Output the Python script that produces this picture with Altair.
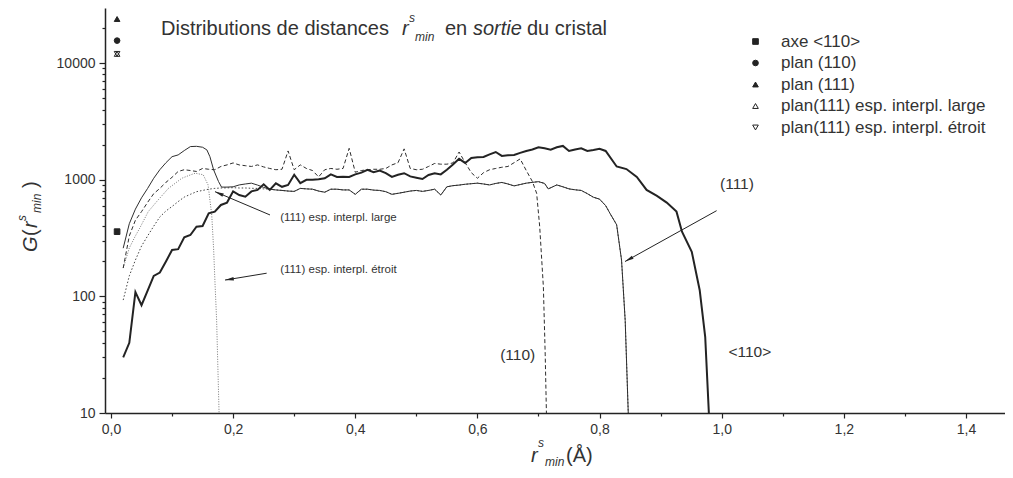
import altair as alt
import pandas as pd

FONT = "Liberation Sans, Arial, Helvetica, sans-serif"
INK = "#232323"
TXT = "#333333"

series_names = ["axe <110>", "plan (110)", "plan (111)",
                "plan(111) esp. interpl. large", "plan(111) esp. interpl. étroit"]

# ---- axe <110> (thick solid) ----
axe_x = [0.02, 0.03, 0.04, 0.05, 0.06, 0.07, 0.08, 0.09, 0.10, 0.11, 0.12, 0.13, 0.14, 0.15,
         0.16, 0.17, 0.18, 0.19, 0.20, 0.21, 0.22, 0.23, 0.24, 0.25, 0.26, 0.27, 0.28, 0.29,
         0.30, 0.31, 0.32, 0.33, 0.34, 0.35, 0.36, 0.37, 0.38, 0.39, 0.40, 0.41, 0.42, 0.43,
         0.44, 0.45, 0.46, 0.47, 0.48, 0.49, 0.50, 0.51, 0.52, 0.53, 0.54, 0.55, 0.56, 0.57,
         0.58, 0.59, 0.60, 0.61, 0.62, 0.63, 0.64, 0.65, 0.66, 0.67, 0.68, 0.69, 0.70, 0.71,
         0.72, 0.73, 0.74, 0.75, 0.76, 0.77, 0.78, 0.79, 0.80, 0.81, 0.828, 0.844, 0.861,
         0.877, 0.894, 0.910, 0.926, 0.935, 0.951, 0.964, 0.973, 0.979]
axe_y = [30, 40, 109, 84, 112, 150, 160, 199, 250, 254, 321, 336, 396, 401,
         516, 533, 608, 637, 795, 740, 716, 795, 818, 915, 818, 932, 870, 903,
         1104, 935, 1000, 1000, 1010, 1030, 1112, 1058, 1060, 1058, 1112, 1150, 1219, 1160,
         1200, 1138, 1058, 1104, 1138, 1068, 1040, 1014, 1100, 1138, 1112, 1219, 1350, 1510,
         1394, 1536, 1560, 1570, 1650, 1730, 1600, 1620, 1633, 1700, 1766, 1820, 1896, 1860,
         1812, 1900, 1950, 1766, 1820, 1860, 1766, 1800, 1840, 1766, 1300, 1235, 1058,
         818, 727, 637, 533, 359, 241, 113, 45, 10]

# ---- plan (110) (dashed) ----
p110_x = [0.02, 0.03, 0.04, 0.05, 0.06, 0.07, 0.08, 0.09, 0.10, 0.11, 0.12, 0.13, 0.14, 0.15,
          0.16, 0.17, 0.18, 0.19, 0.20, 0.21, 0.22, 0.23, 0.24, 0.25, 0.26, 0.27, 0.28, 0.29,
          0.30, 0.31, 0.32, 0.33, 0.34, 0.35, 0.36, 0.37, 0.38, 0.39, 0.40, 0.41, 0.42, 0.43,
          0.44, 0.45, 0.46, 0.47, 0.48, 0.49, 0.50, 0.51, 0.52, 0.53, 0.54, 0.55, 0.56, 0.57,
          0.58, 0.59, 0.60, 0.61, 0.62, 0.63, 0.64, 0.65, 0.66, 0.67, 0.68, 0.69, 0.697,
          0.702, 0.708, 0.711, 0.713]
p110_y = [175, 330, 450, 533, 640, 760, 843, 950, 1050, 1178, 1219, 1200, 1178, 1250,
          1230, 1219, 1300, 1341, 1394, 1340, 1320, 1300, 1341, 1288, 1250, 1219, 1230, 1766,
          1219, 1341, 1250, 1200, 1058, 1219, 1250, 1230, 1250, 1860, 1160, 1200, 1219, 1230,
          1230, 1250, 1341, 1400, 1840, 1250, 1219, 1230, 1300, 1380, 1360, 1360, 1394, 1730,
          1400, 1150, 1030, 1150, 1219, 1250, 1280, 1300, 1400, 1510, 1200, 967, 765,
          396, 121, 32, 10]

# ---- plan (111) (thin solid): its own head, then the part shared with the "large" curve ----
p111_head_x = [0.02, 0.03, 0.04, 0.05, 0.06, 0.07, 0.08, 0.09, 0.10, 0.11, 0.12, 0.13, 0.14,
               0.15, 0.157, 0.162, 0.168, 0.176, 0.181, 0.19, 0.20, 0.21, 0.22, 0.23, 0.24,
               0.25, 0.26]
p111_head_y = [259, 420, 560, 700, 843, 1030, 1219, 1400, 1577, 1633, 1780, 1925, 1935,
               1900, 1803, 1577, 1219, 967, 865, 865, 870, 903, 920, 935, 900,
               860, 830]
tail_x = [0.27, 0.28, 0.29, 0.30, 0.31, 0.32, 0.33, 0.34, 0.35, 0.36, 0.37, 0.38, 0.39, 0.40,
          0.41, 0.42, 0.43, 0.44, 0.45, 0.46, 0.47, 0.48, 0.49, 0.50, 0.51, 0.52, 0.53, 0.54,
          0.55, 0.56, 0.57, 0.58, 0.59, 0.60, 0.61, 0.62, 0.63, 0.64, 0.65, 0.66, 0.67, 0.68,
          0.69, 0.70, 0.71, 0.716, 0.73, 0.74, 0.75, 0.76, 0.77, 0.78, 0.79, 0.80, 0.81,
          0.817, 0.828, 0.836, 0.842, 0.847]
tail_y = [818, 810, 800, 795, 843, 835, 830, 800, 782, 830, 830, 818, 818, 750,
          830, 830, 815, 810, 790, 750, 765, 782, 800, 810, 795, 810, 830, 740,
          870, 890, 900, 915, 925, 935, 920, 903, 930, 948, 920, 886, 910, 935,
          950, 963, 930, 835, 903, 870, 835, 820, 810, 760, 708, 682, 600,
          516, 411, 205, 62, 10]

# ---- plan(111) esp. interpl. large (dotted) ----
large_head_x = [0.02, 0.03, 0.04, 0.05, 0.06, 0.07, 0.08, 0.09, 0.10, 0.11, 0.12, 0.13, 0.14,
                0.15, 0.16, 0.17, 0.18, 0.19, 0.20, 0.21, 0.22, 0.23, 0.24, 0.25, 0.26]
large_head_y = [93, 150, 205, 270, 330, 400, 480, 540, 590, 650, 710, 750, 790,
                810, 830, 843, 850, 852, 855, 850, 850, 845, 843, 835, 830]

# ---- plan(111) esp. interpl. étroit (fine dots) ----
etroit_x = [0.02, 0.03, 0.04, 0.047, 0.061, 0.075, 0.094, 0.116, 0.13, 0.138, 0.151, 0.159,
            0.165, 0.168, 0.170, 0.173, 0.177]
etroit_y = [175, 260, 330, 384, 533, 651, 843, 1030, 1100, 1138, 1104, 903,
            497, 259, 143, 62, 10]

# ---- isolated symbols at r = 0.01 ----
sym_x = [0.01, 0.01, 0.01, 0.01, 0.01]
sym_y = [359, 15600, 23900, 12000, 12000]

x_ticks = [0.0, 0.1, 0.2, 0.3, 0.4, 0.5, 0.6, 0.7, 0.8, 0.9, 1.0, 1.1, 1.2, 1.3, 1.4]
y_ticks = [10, 20, 30, 40, 50, 60, 70, 80, 90,
           100, 200, 300, 400, 500, 600, 700, 800, 900,
           1000, 2000, 3000, 4000, 5000, 6000, 7000, 8000, 9000,
           10000, 20000]

# in-plot annotations (data coordinates)
ann_text = ["(111) esp. interpl. large", "(111) esp. interpl. étroit", "(111)", "(110)", "<110>"]
ann_x = [0.277, 0.277, 1.025, 0.666, 1.046]
ann_y = [470, 170, 920, 31.4, 33.4]
ann_size = [11.5, 11.5, 15.5, 15.5, 15.5]
ann_align = ["left", "left", "center", "center", "center"]

arrow_x0 = [0.2604, 0.2549, 0.9917]
arrow_y0 = [499, 158, 543]
arrow_x1 = [0.1703, 0.1867, 0.8417]
arrow_y1 = [791, 138, 199]
arrow_angle = [293, 261, 241]

# ---------------------------------------------------------------
xscale = alt.Scale(domain=[-0.0098, 1.4639], nice=False, zero=False)
yscale = alt.Scale(type="log", domain=[10, 29700], nice=False)

xaxis = alt.Axis(
    values=x_ticks, title=None, grid=False,
    labelExpr="round(datum.value*10) % 2 === 0 ? replace(format(datum.value, '.1f'), '.', ',') : ''",
    tickSize={"condition": {"test": "round(datum.value*10) % 2 === 0", "value": 5}, "value": 3},
    labelPadding=4, labelFont=FONT, labelFontSize=14, labelColor=TXT,
    domainColor=INK, tickColor=INK, domainWidth=1.5, tickWidth=1.2, labelFlush=False,
    labelOverlap=False,
)
major_y = "datum.value === 10 || datum.value === 100 || datum.value === 1000 || datum.value === 10000"
yaxis = alt.Axis(
    values=y_ticks, title=None, grid=False,
    labelExpr="(" + major_y + ") ? format(datum.value, 'd') : ''",
    tickSize={"condition": {"test": major_y, "value": 6}, "value": 3},
    labelPadding=4, labelFont=FONT, labelFontSize=14, labelColor=TXT,
    domainColor=INK, tickColor=INK, domainWidth=1.5, tickWidth=1.2, labelFlush=False,
    labelOverlap=False,
)


def line_layer(xs, ys, **style):
    df = pd.DataFrame({"x": xs, "y": ys})
    return alt.Chart(df).mark_line(clip=True, **style).encode(
        x=alt.X("x:Q", scale=xscale, axis=xaxis),
        y=alt.Y("y:Q", scale=yscale, axis=yaxis),
    )


layers = [
    line_layer(large_head_x + tail_x, large_head_y + tail_y, color="#444", strokeWidth=1,
               strokeDash=[1.5, 2]),
    line_layer(etroit_x, etroit_y, color="#777", strokeWidth=1, strokeDash=[1, 1.5]),
    line_layer(p111_head_x + tail_x, p111_head_y + tail_y, color="#2e2e2e", strokeWidth=1),
    line_layer(p110_x, p110_y, color="#2e2e2e", strokeWidth=1, strokeDash=[4, 2.5]),
    line_layer(axe_x, axe_y, color=INK, strokeWidth=2),
]

leg = alt.Legend(
    title=None, orient="none", legendX=642, legendY=25, padding=0,
    labelFont=FONT, labelFontSize=17, labelColor=TXT, labelOffset=17, labelLimit=400,
    symbolSize=32, symbolStrokeWidth=1, rowPadding=3.5,
)
sym_df = pd.DataFrame({"x": sym_x, "y": sym_y, "series": series_names})
points = alt.Chart(sym_df).mark_point(filled=True, strokeWidth=1, size=32,
                                      opacity=1).encode(
    x=alt.X("x:Q", scale=xscale, axis=xaxis),
    y=alt.Y("y:Q", scale=yscale, axis=yaxis),
    shape=alt.Shape("series:N", scale=alt.Scale(
        domain=series_names,
        range=["square", "circle", "triangle-up", "triangle-up", "triangle-down"]), legend=leg),
    fill=alt.Fill("series:N", scale=alt.Scale(
        domain=series_names,
        range=[INK, INK, INK, "transparent", "transparent"]), legend=leg),
    stroke=alt.Stroke("series:N", scale=alt.Scale(
        domain=series_names, range=[INK, INK, INK, INK, INK]), legend=leg),
)
layers.append(points)

ann_df = pd.DataFrame({"t": ann_text, "x": ann_x, "y": ann_y, "s": ann_size})
for al in ["left", "center"]:
    sub = ann_df[[a == al for a in ann_align]]
    layers.append(alt.Chart(sub).mark_text(align=al, baseline="middle", font=FONT,
                                           color=TXT).encode(
        x=alt.X("x:Q", scale=xscale), y=alt.Y("y:Q", scale=yscale),
        text="t:N", size=alt.Size("s:Q", scale=None)))

arr_df = pd.DataFrame({"x0": arrow_x0, "y0": arrow_y0, "x1": arrow_x1, "y1": arrow_y1,
                       "a": arrow_angle})
layers.append(alt.Chart(arr_df).mark_rule(color=INK, strokeWidth=1).encode(
    x=alt.X("x0:Q", scale=xscale), y=alt.Y("y0:Q", scale=yscale),
    x2="x1:Q", y2="y1:Q"))
layers.append(alt.Chart(arr_df).mark_point(
    shape="M0,0L-0.45,2.2L0.45,2.2Z", filled=True, color=INK, size=64, opacity=1).encode(
    x=alt.X("x1:Q", scale=xscale), y=alt.Y("y1:Q", scale=yscale),
    angle=alt.Angle("a:Q", scale=None)))

# ---- composed titles (page pixel positions, converted to plot offsets) ----
PL, PT = 105, 8
txt_t = ["Distributions de distances", "en", "du cristal", "(Å)",
         "r", "s", "min", "sortie", "r", "s", "min"]
txt_px = [161, 445, 527, 566, 402, 409, 415, 473, 531, 538, 545]
txt_py = [35, 35, 35, 462, 35, 22, 41, 35, 462, 447, 466]
txt_sz = [20, 20, 20, 20, 20, 12, 12, 20, 20, 12, 12]
txt_it = [False, False, False, False, True, True, True, True, True, True, True]

rot_t = ["G", "(", "r", "s", "min", ")"]
rot_px = [37, 37, 37, 26, 41, 37]
rot_py = [252, 236, 228, 221, 213, 188]
rot_sz = [20, 20, 20, 12, 12, 20]
rot_it = [True, False, True, True, True, False]

tdf = pd.DataFrame({"t": txt_t, "x": [p - PL for p in txt_px], "y": [p - PT for p in txt_py],
                    "s": txt_sz, "it": txt_it})
rdf = pd.DataFrame({"t": rot_t, "x": [p - PL for p in rot_px], "y": [p - PT for p in rot_py],
                    "s": rot_sz, "it": rot_it})
for df, ang in [(tdf, 0), (rdf, 270)]:
    for it in [False, True]:
        sub = df[df["it"] == it]
        layers.append(alt.Chart(sub).mark_text(
            align="left", baseline="alphabetic", font=FONT, color=TXT, angle=ang,
            fontStyle="italic" if it else "normal").encode(
            x=alt.X("x:Q", scale=None), y=alt.Y("y:Q", scale=None),
            text="t:N", size=alt.Size("s:Q", scale=None)))

chart = alt.layer(*layers).properties(
    width=900, height=405,
    autosize=alt.AutoSizeParams(type="none"),
    padding={"left": 97, "top": 0, "right": 0, "bottom": 57},
    background="white",
).configure_view(stroke=None)

chart.save("out.html", embed_options={"renderer": "svg", "actions": False})
